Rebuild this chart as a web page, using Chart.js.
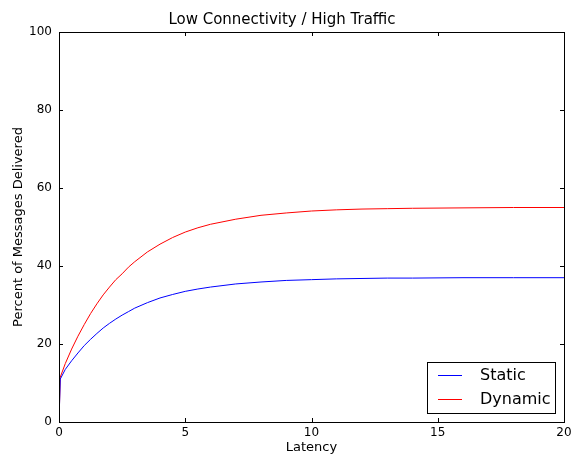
<!DOCTYPE html>
<html>
<head>
<meta charset="utf-8">
<script src="https://cdn.jsdelivr.net/npm/chart.js@4/dist/chart.umd.min.js"></script>
<style>
html,body{margin:0;padding:0;background:#fff;}
#wrap{width:571px;height:456px;}
</style>
</head>
<body>
<div id="wrap"><canvas id="c" width="571" height="456"></canvas></div>
<script>
const titleText = "Low Connectivity / High Traffic";
const xLabel = "Latency";
const yLabel = "Percent of Messages Delivered";
const seriesNames = ["Static", "Dynamic"];
const latency = [0, 0.05, 0.25, 0.5, 0.75, 1, 1.25, 1.5, 1.75, 2, 2.25, 2.5, 2.75, 3, 3.5, 4, 4.5, 5, 5.5, 6, 7, 8, 9, 10, 11, 12, 13, 14, 16, 18, 20];
const staticVals = [0, 11, 13.5, 15.7, 17.7, 19.6, 21.2, 22.7, 24.1, 25.3, 26.4, 27.4, 28.3, 29.2, 30.6, 31.8, 32.7, 33.5, 34.1, 34.6, 35.4, 35.9, 36.3, 36.5, 36.7, 36.8, 36.9, 36.9, 37.0, 37.0, 37.0];
const dynamicVals = [0, 11.5, 15.0, 18.7, 22.0, 25.0, 27.8, 30.3, 32.6, 34.6, 36.5, 38.0, 39.7, 41.1, 43.6, 45.6, 47.3, 48.7, 49.8, 50.7, 52.0, 53.0, 53.6, 54.1, 54.4, 54.6, 54.7, 54.8, 54.9, 55.0, 55.0];
const xTicks = [0, 5, 10, 15, 20];
const yTicks = [0, 20, 40, 60, 80, 100];

const FONT = "'DejaVu Sans', sans-serif";

function pts(xs, ys) { return xs.map((x, i) => ({x: x, y: ys[i]})); }

const framePlugin = {
  id: 'frame',
  afterDraw(chart) {
    const ctx = chart.ctx, a = chart.chartArea;
    const xs = chart.scales.x, ys = chart.scales.y;
    ctx.save();
    ctx.strokeStyle = '#000';
    ctx.lineWidth = 1;
    ctx.beginPath();
    const tl = 4;
    xs.ticks.forEach(t => {
      const px = Math.round(xs.getPixelForValue(t.value)) + 0.5;
      ctx.moveTo(px, a.bottom); ctx.lineTo(px, a.bottom - tl);
      ctx.moveTo(px, a.top); ctx.lineTo(px, a.top + tl);
    });
    ys.ticks.forEach(t => {
      const py = Math.round(ys.getPixelForValue(t.value)) + 0.5;
      ctx.moveTo(a.left, py); ctx.lineTo(a.left + tl, py);
      ctx.moveTo(a.right, py); ctx.lineTo(a.right - tl, py);
    });
    ctx.stroke();
    ctx.strokeRect(Math.round(a.left) + 0.5, Math.round(a.top) + 0.5, Math.round(a.right - a.left), Math.round(a.bottom - a.top));

    // legend
    const bx = 427.5, by = 362.5, bw = 128, bh = 51;
    ctx.fillStyle = '#fff';
    ctx.fillRect(bx, by, bw, bh);
    ctx.strokeRect(bx, by, bw, bh);
    ctx.font = "16px " + FONT;
    ctx.textBaseline = 'middle';
    ctx.textAlign = 'left';
    chart.data.datasets.forEach((ds, i) => {
      const ly = 375.5 + i * 24;
      ctx.strokeStyle = ds.borderColor;
      ctx.beginPath();
      ctx.moveTo(438, ly); ctx.lineTo(462, ly);
      ctx.stroke();
      ctx.fillStyle = '#000';
      ctx.fillText(ds.label, 480, ly);
    });
    ctx.restore();
  }
};

new Chart(document.getElementById('c'), {
  type: 'line',
  data: {
    datasets: [
      {label: seriesNames[0], data: pts(latency, staticVals), borderColor: '#0000ff', borderWidth: 1, pointRadius: 0, fill: false, tension: 0},
      {label: seriesNames[1], data: pts(latency, dynamicVals), borderColor: '#ff0000', borderWidth: 1, pointRadius: 0, fill: false, tension: 0}
    ]
  },
  options: {
    responsive: false,
    animation: false,
    devicePixelRatio: 1,
    layout: {padding: {left: 0, right: 7, top: 0, bottom: 0}, autoPadding: false},
    plugins: {
      legend: {display: false},
      tooltip: {enabled: false},
      title: {display: true, text: titleText, color: '#000', font: {family: FONT, size: 15, weight: 'normal'}, padding: {top: 11, bottom: 3}}
    },
    scales: {
      x: {
        type: 'linear', min: 0, max: 20,
        afterBuildTicks: s => { s.ticks = xTicks.map(v => ({value: v})); },
        afterFit: s => { s.height = 34; s.paddingLeft = 0; s.paddingRight = 0; s.paddingTop = 0; s.paddingBottom = 0; },
        grid: {display: false, drawTicks: false},
        border: {display: false},
        ticks: {color: '#000', font: {family: FONT, size: 12}, padding: 4, maxRotation: 0},
        title: {display: true, text: xLabel, color: '#000', font: {family: FONT, size: 13}, padding: {top: 0, bottom: 1}}
      },
      y: {
        type: 'linear', min: 0, max: 100,
        afterBuildTicks: s => { s.ticks = yTicks.map(v => ({value: v})); },
        afterFit: s => { s.width = 59; s.paddingLeft = 0; s.paddingRight = 0; s.paddingTop = 0; s.paddingBottom = 0; },
        grid: {display: false, drawTicks: false},
        border: {display: false},
        ticks: {color: '#000', font: {family: FONT, size: 12}, padding: 7},
        title: {display: true, text: yLabel, color: '#000', font: {family: FONT, size: 13}, padding: {top: 11, bottom: 0}}
      }
    }
  },
  plugins: [framePlugin]
});
</script>
</body>
</html>
